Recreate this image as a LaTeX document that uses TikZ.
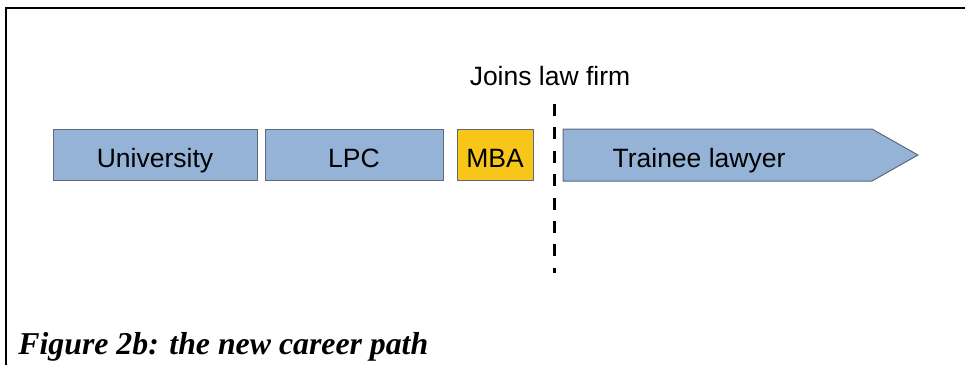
\documentclass[tikz,border=0pt]{standalone}
\usepackage{fontspec}
\setmainfont{Liberation Sans}
\newfontfamily\captionserif{Liberation Serif}
\definecolor{stageblue}{RGB}{149, 179, 215}
\definecolor{stageedge}{RGB}{95, 105, 120}
\definecolor{mbagold}{RGB}{248, 198, 24}
\usetikzlibrary{positioning}

\begin{document}
\begin{tikzpicture}[x=0.5pt, y=-0.5pt,
    stagebox/.style={draw=stageedge, fill=stageblue, line width=0.5pt, minimum height=25.5pt, inner sep=0pt, text height=12.5pt, text depth=0pt, font=\fontsize{13.25}{15}\selectfont},
    label/.style={inner sep=0pt, text height=12.5pt, text depth=0pt, font=\fontsize{13.25}{15}\selectfont}]
  \useasboundingbox (0,0) rectangle (965,365);

  % page frame (top and left edges only)
  \draw[line width=1.25pt] (6,365) -- (6,8) -- (965,8);

  % study stages
  \node[stagebox, minimum width=102pt] (uni) at (155,154.5) {University};
  \node[stagebox, minimum width=89pt] (lpc) at (354,154.5) {LPC};
  \node[stagebox, minimum width=38pt, fill=mbagold] (mba) at (495,154.5) {MBA};

  % trainee arrow
  \fill[stageblue, draw=stageedge, line width=0.5pt] (563,129) -- (872,129) -- (918,155) -- (872,181) -- (563,181) -- cycle;
  \node[label] (trainee) at (699,154.5) {Trainee lawyer};

  % joining the firm
  \node[label] (joins) at (550,72.5) {Joins law firm};
  \coordinate (cuttop) at (554,104);
  \coordinate (cutbot) at (554,273);
  \draw[line width=1.5pt, dash pattern=on 6pt off 5.7pt] (cuttop) -- (cutbot);

  % caption
  \node[anchor=base west, inner sep=0pt, font=\captionserif\bfseries\itshape\fontsize{15.9}{18}\selectfont] (caption) at (18,354) {Figure 2b: the new career path};
\end{tikzpicture}
\end{document}
